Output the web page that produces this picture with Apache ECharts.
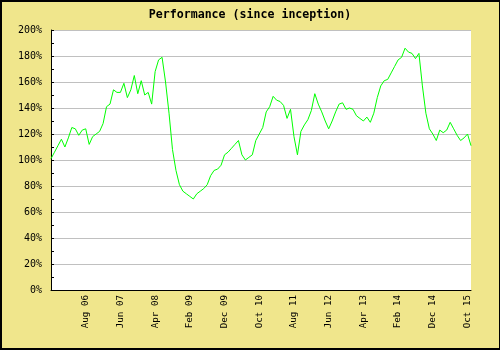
<!DOCTYPE html>
<html>
<head>
<meta charset="utf-8">
<script src="https://cdn.jsdelivr.net/npm/echarts@6/dist/echarts.min.js"></script>
<style>
  html, body { margin: 0; padding: 0; background: #F0E68C; }
  #frame { position: absolute; left: 0; top: 0; width: 500px; height: 350px; box-sizing: border-box;
           border-left: 2px solid #000; border-top: 2px solid #000; border-bottom: 2px solid #000; border-right: 1px solid #000; }
  #chart { position: absolute; left: 0; top: 0; width: 500px; height: 350px; }
</style>
</head>
<body>
<div id="chart"></div>
<div id="frame"></div>
<script>
// Chart title
const chartTitle = 'Performance (since inception)';

// Month names used to build the monthly category labels (Oct 2005 .. Nov 2015)
const monthNames = ['Jan','Feb','Mar','Apr','May','Jun','Jul','Aug','Sep','Oct','Nov','Dec'];
const startMonth = 9;   // October
const startYear = 2005;
const monthCount = 122;

// Y tick values (percent)
const yTicks = [0, 20, 40, 60, 80, 100, 120, 140, 160, 180, 200];

// Performance (%), one value per month
const performance = [
  101, 106, 111, 116, 110, 117, 125, 124, 119, 123,
  124, 112, 118, 120, 122, 128, 141, 143, 154, 152,
  152, 159, 148, 154, 165, 151, 161, 150, 152, 143,
  168, 177, 179, 160, 136, 108,  92,  81,  76,  74,
   72,  70,  74,  76,  78,  81,  88,  92,  93,  96,
  104, 106, 109, 112, 115, 104, 100, 102, 104, 115,
  120, 125, 137, 141, 149, 146, 145, 142, 132, 139,
  118, 104, 122, 127, 131, 138, 151, 143, 137, 130,
  124, 130, 137, 143, 144, 139, 140, 139, 134, 132,
  130, 133, 129, 136, 148, 157, 161, 162, 167, 172,
  177, 179, 186, 183, 182, 178, 182, 157, 136, 124,
  120, 115, 123, 121, 123, 129, 124, 119, 115, 117,
  120, 111
];

const categories = [];
for (let k = 0; k < monthCount; k++) {
  const m = (startMonth + k) % 12;
  const y = startYear + Math.floor((startMonth + k) / 12);
  categories.push(monthNames[m] + ' ' + String(y % 100).padStart(2, '0'));
}

const chart = echarts.init(document.getElementById('chart'), null, { renderer: 'canvas' });
chart.setOption({
  backgroundColor: '#F0E68C',
  animation: false,
  title: {
    text: chartTitle,
    left: 'center',
    top: 4,
    textStyle: { fontFamily: 'DejaVu Sans Mono', fontSize: 11.6, fontWeight: 'bold', color: '#000' }
  },
  grid: {
    left: 51, right: 29, top: 30, bottom: 60,
    show: true, backgroundColor: '#FFFFFF', borderWidth: 0
  },
  xAxis: {
    type: 'category',
    data: categories,
    boundaryGap: false,
    axisLine: { lineStyle: { color: '#000', width: 1 } },
    axisTick: { show: false },
    splitLine: { show: false },
    axisLabel: {
      rotate: 90,
      interval: function (i) { return i > 0 && i % 10 === 0; },
      margin: 5,
      fontFamily: 'DejaVu Sans Mono',
      fontSize: 9.2,
      color: '#000'
    }
  },
  yAxis: {
    type: 'value',
    min: yTicks[0],
    max: yTicks[yTicks.length - 1],
    interval: 20,
    axisLine: { show: true, lineStyle: { color: '#000', width: 1 } },
    axisTick: { show: true, inside: true, length: 3, lineStyle: { color: '#000' } },
    minorTick: { show: true, splitNumber: 2, length: 3, lineStyle: { color: '#000' } },
    splitLine: { show: true, lineStyle: { color: '#C0C0C0', width: 1 } },
    axisLabel: {
      formatter: '{value}%',
      margin: 9,
      fontFamily: 'DejaVu Sans Mono',
      fontSize: 10,
      color: '#000'
    }
  },
  series: [{
    type: 'line',
    data: performance,
    showSymbol: false,
    symbol: 'none',
    lineStyle: { color: '#00FF00', width: 1 },
    itemStyle: { color: '#00FF00' }
  }]
});
</script>
</body>
</html>
